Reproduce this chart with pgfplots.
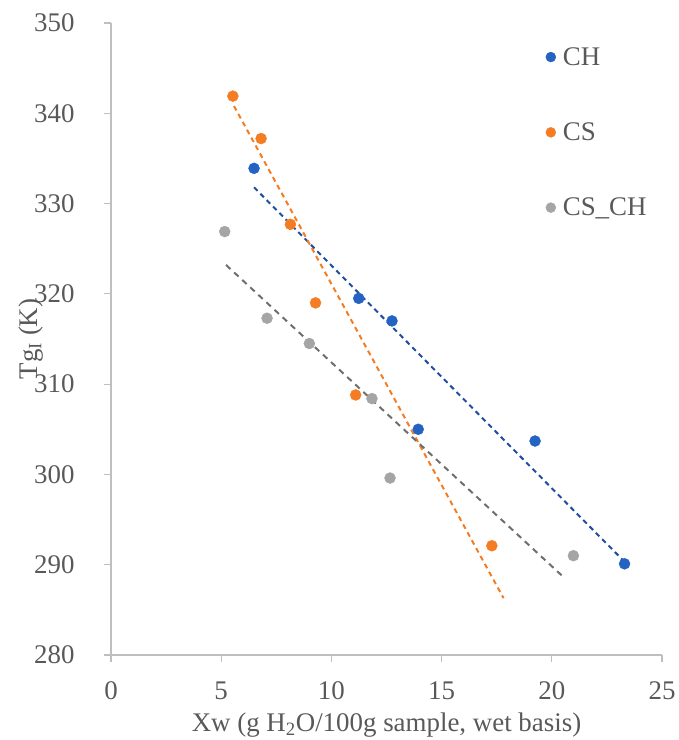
\documentclass[border=0pt]{standalone}
\usepackage{fontspec}
\setmainfont{Liberation Serif}
\usepackage{pgfplots}
\pgfplotsset{compat=1.18}
\definecolor{chblue}{HTML}{2463C2}
\definecolor{chblueline}{HTML}{1F4E9C}
\definecolor{csorange}{HTML}{F47C22}
\definecolor{cschgray}{HTML}{A5A5A5}
\definecolor{cschgrayline}{HTML}{6E6E6E}
\definecolor{txt}{HTML}{595959}
\definecolor{axisgray}{HTML}{BFBFBF}
\begin{document}
\begin{tikzpicture}
\begin{axis}[
  scale only axis,
  width=551bp, height=632bp,
  xmin=0, xmax=25, ymin=280, ymax=350,
  xtick={0,5,...,25}, ytick={280,290,...,350},
  axis x line*=bottom, axis y line*=left,
  axis line style={axisgray, line width=1.2pt, -},
  tick style={axisgray, line width=1.2pt},
  tick align=outside,
  major tick length=7bp,
  /pgf/number format/assume math mode=true,
  tick label style={font=\fontsize{27}{30}\selectfont, text=txt},
  xticklabel style={yshift=-16bp},
  yticklabel style={xshift=-26bp},
  label style={font=\fontsize{27}{30}\selectfont, text=txt},
  xlabel={Xw (g H\textsubscript{2}O/100g sample, wet basis)},
  ylabel={Tg\textsubscript{I} (K)},
  xlabel style={at={(axis description cs:0.5,0)}, anchor=center, yshift=-70bp},
  ylabel style={at={(axis description cs:-0.145,0.5)}, anchor=center},
  legend style={draw=none, fill=none, at={(0.783,0.968)}, anchor=north west,
    font=\fontsize{27}{30}\selectfont, text=txt, row sep=52bp,
    legend cell align=left},
  legend image code/.code={\fill[#1] (0bp,0bp) circle (5bp); \path[draw=none, fill=none] (-5bp,-1bp) rectangle (10bp,1bp);},
  clip=false,
]
% trend lines
\addplot[chblueline, line width=2pt, dash pattern=on 5bp off 4bp, forget plot] coordinates {(6.49,331.8) (23.23,290.5)};
\addplot[csorange, line width=2pt, dash pattern=on 5bp off 4bp, forget plot] coordinates {(5.58,340.8) (17.81,286.3)};
\addplot[cschgrayline, line width=2pt, dash pattern=on 6bp off 5bp, forget plot] coordinates {(5.22,323.2) (20.5,288.7)};
% data
\addplot[only marks, mark=*, mark size=5.5bp, chblue, mark options={fill=chblue, draw=chblue}] coordinates {
(6.49,333.9) (11.24,319.5) (12.75,317.0) (13.94,305.0) (19.24,303.7) (23.30,290.1)};
\addlegendentry{CH}
\addplot[only marks, mark=*, mark size=5.5bp, csorange, mark options={fill=csorange, draw=csorange}] coordinates {
(5.53,341.9) (6.81,337.2) (8.14,327.7) (9.28,319.0) (11.10,308.8) (17.28,292.1)};
\addlegendentry{CS}
\addplot[only marks, mark=*, mark size=5.5bp, cschgray, mark options={fill=cschgray, draw=cschgray}] coordinates {
(5.16,326.9) (7.08,317.3) (9.00,314.5) (11.84,308.4) (12.66,299.6) (20.98,291.0)};
\addlegendentry{CS\_CH}
\end{axis}
\pgfresetboundingbox
\path[use as bounding box] ([shift={(-111bp,-85bp)}]current axis.south west) rectangle ([shift={(16bp,23bp)}]current axis.north east);
\end{tikzpicture}
\end{document}
